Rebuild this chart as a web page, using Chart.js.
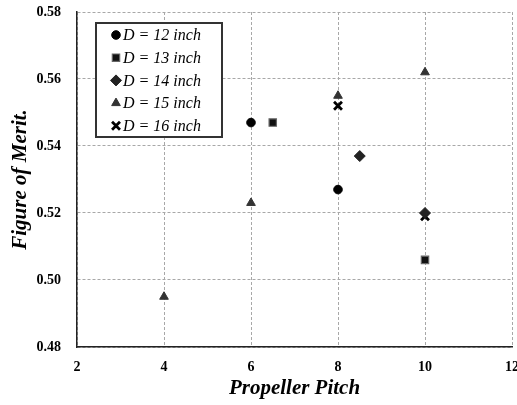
<!DOCTYPE html>
<html>
<head>
<meta charset="utf-8">
<script src="https://cdn.jsdelivr.net/npm/chart.js@4.4.0/dist/chart.umd.min.js"></script>
<style>
  html, body { margin: 0; padding: 0; background: #fff; }
  #wrap { width: 517px; height: 405px; }
</style>
</head>
<body>
<div id="wrap"><canvas id="c" width="517" height="405"></canvas></div>
<script>
// values
const seriesNames = ['D = 12 inch', 'D = 13 inch', 'D = 14 inch', 'D = 15 inch', 'D = 16 inch'];
const pitch12 = [6, 8];
const merit12 = [0.547, 0.527];
const pitch13 = [6.5, 10];
const merit13 = [0.547, 0.506];
const pitch14 = [8.5, 10];
const merit14 = [0.537, 0.520];
const pitch15 = [4, 6, 8, 10];
const merit15 = [0.495, 0.523, 0.555, 0.562];
const pitch16 = [8, 10];
const merit16 = [0.552, 0.519];
const xTicks = [2, 4, 6, 8, 10, 12];
const yTicks = [0.48, 0.50, 0.52, 0.54, 0.56, 0.58];

const SERIF = '"Liberation Serif", "Times New Roman", serif';

function pts(xs, ys) {
  return xs.map((x, i) => ({ x: x, y: ys[i] }));
}

const styles = [
  { pointStyle: 'circle', radius: 4.3, bg: '#000', border: '#000', bw: 1 },
  { pointStyle: 'rect', radius: 5.2, bg: '#111', border: '#666', bw: 1.2 },
  { pointStyle: 'rectRot', radius: 5.5, bg: '#222', border: '#222', bw: 1 },
  { pointStyle: 'triangle', radius: 5, bg: '#333', border: '#333', bw: 1 },
  { pointStyle: 'crossRot', radius: 5.6, bg: '#000', border: '#000', bw: 2.8 }
];

const allData = [
  pts(pitch12, merit12),
  pts(pitch13, merit13),
  pts(pitch14, merit14),
  pts(pitch15, merit15),
  pts(pitch16, merit16)
];

const datasets = allData.map((d, i) => ({
  label: seriesNames[i],
  data: d,
  showLine: false,
  pointStyle: styles[i].pointStyle,
  pointRadius: styles[i].radius,
  pointBackgroundColor: styles[i].bg,
  pointBorderColor: styles[i].border,
  pointBorderWidth: styles[i].bw
}));

// legend box drawn inside the plot area
const boxLegend = {
  id: 'boxLegend',
  afterDraw(chart) {
    const ctx = chart.ctx;
    const x0 = 96, y0 = 23, w = 126, h = 114;
    ctx.save();
    ctx.fillStyle = '#fff';
    ctx.fillRect(x0, y0, w, h);
    ctx.lineWidth = 2;
    ctx.strokeStyle = '#333';
    ctx.strokeRect(x0, y0, w, h);
    ctx.font = 'italic 16px ' + SERIF;
    ctx.textBaseline = 'middle';
    chart.data.datasets.forEach((ds, i) => {
      const y = y0 + 12 + i * 22.7;
      ctx.fillStyle = ds.pointBackgroundColor;
      ctx.strokeStyle = ds.pointBorderColor;
      ctx.lineWidth = ds.pointBorderWidth;
      Chart.helpers.drawPoint(ctx, {
        pointStyle: ds.pointStyle,
        radius: ds.pointRadius,
        rotation: 0,
        borderWidth: ds.pointBorderWidth
      }, x0 + 20, y);
      ctx.fillStyle = '#000';
      ctx.fillText(ds.label, x0 + 27, y + 1);
    });
    ctx.restore();
  }
};

new Chart(document.getElementById('c'), {
  type: 'scatter',
  data: { datasets: datasets },
  options: {
    responsive: false,
    animation: false,
    layout: { autoPadding: false, padding: { left: 8, right: 5, top: 12, bottom: 4 } },
    plugins: {
      legend: { display: false },
      tooltip: { enabled: false }
    },
    scales: {
      x: {
        type: 'linear',
        min: 2,
        max: 12,
        afterBuildTicks: (s) => { s.ticks = xTicks.map(v => ({ value: v })); },
        afterFit: (s) => { s.height = 54; s.paddingLeft = 0; s.paddingRight = 0; },
        grid: { color: '#a8a8a8', lineWidth: 1, drawTicks: false },
        border: { color: '#222', width: 1.5, dash: [3, 2] },
        ticks: {
          color: '#000',
          padding: 12,
          font: { family: SERIF, size: 14, weight: 'bold' }
        },
        title: {
          display: true,
          text: 'Propeller Pitch',
          color: '#000',
          padding: { top: 2, bottom: 0 },
          font: { family: SERIF, size: 21, weight: 'bold', style: 'italic' }
        }
      },
      y: {
        type: 'linear',
        min: 0.48,
        max: 0.58,
        afterBuildTicks: (s) => { s.ticks = yTicks.map(v => ({ value: v })); },
        afterFit: (s) => { s.width = 69; s.paddingTop = 0; s.paddingBottom = 0; },
        grid: { color: '#a8a8a8', lineWidth: 1, drawTicks: false },
        border: { color: '#222', width: 1.5, dash: [3, 2] },
        ticks: {
          color: '#000',
          padding: 16,
          font: { family: SERIF, size: 14, weight: 'bold' },
          callback: (v) => v.toFixed(2)
        },
        title: {
          display: true,
          text: 'Figure of Merit.',
          color: '#000',
          padding: { top: 0, bottom: 4 },
          font: { family: SERIF, size: 21, weight: 'bold', style: 'italic' }
        }
      }
    }
  },
  plugins: [boxLegend]
});
</script>
</body>
</html>
